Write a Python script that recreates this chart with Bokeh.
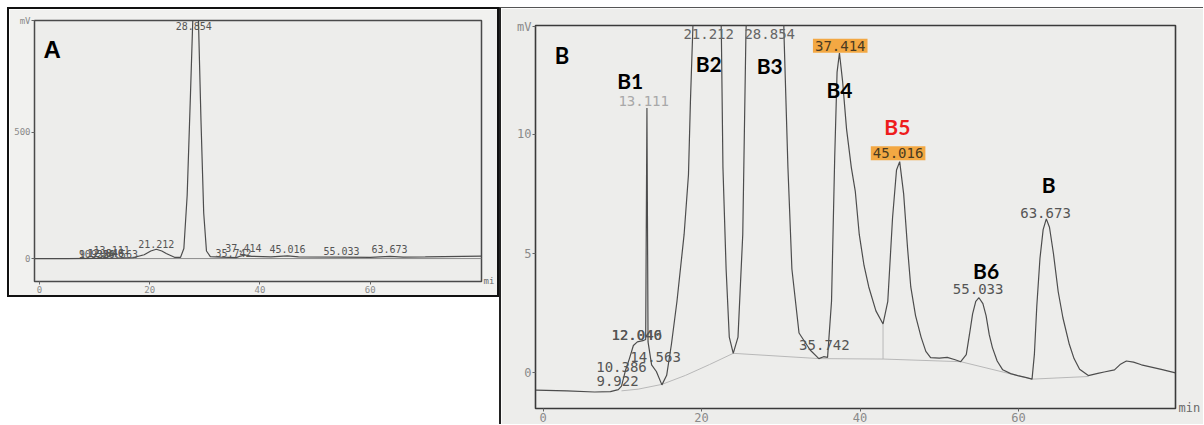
from bokeh.plotting import figure
from bokeh.models import Range1d, Label, FixedTicker, Spacer, LinearAxis
from bokeh.layouts import row, column
from bokeh.embed import file_html
from bokeh.resources import INLINE

# ---------------- Panel A data (min, mV) ----------------
time_a = [-0.9, 5.0, 10.0, 14.0, 17.0, 19.0, 20.2, 21.2, 22.2, 23.0, 24.5, 25.6,
          26.2, 26.8, 27.4, 27.9, 28.3, 28.8, 29.3, 29.8, 30.3, 31.0, 33.0, 35.7,
          36.5, 37.4, 38.5, 42.0, 45.0, 47.0, 55.0, 60.0, 63.6, 66.0, 70.0, 80.2]
signal_a = [0, 0, 1, 2, 4, 15, 30, 37, 30, 20, 5, 5,
            40, 250, 650, 1000, 1150, 980, 550, 180, 30, 8, 6, 4,
            10, 14, 9, 7, 11, 7, 6, 5, 9, 6, 7, 10]
base_a_time = [-0.9, 80.2]
base_a_signal = [0, 0]

labels_a = ["9.922", "10.386", "12.040", "12.046", "13.111", "14.563", "21.212",
            "28.854", "35.742", "37.414", "45.016", "55.033", "63.673"]
label_a_x = [9.9, 10.4, 12.0, 12.05, 13.1, 14.6, 21.2, 28.0, 35.2, 37.0, 45.0, 54.8, 63.5]
label_a_y = [20, 20, 22, 22, 33, 20, 57, 921, 22, 40, 37, 31, 37]

# ---------------- Panel B data (min, mV) ----------------
time_b = [-0.9, 3.0, 6.5, 8.5, 9.5, 9.9, 10.4, 10.9, 11.4, 11.9, 12.6, 12.95,
          13.11, 13.25, 13.7, 14.3, 15.0, 15.6, 16.2, 16.9, 17.8, 18.35, 18.6, 18.9,
          19.4, 20.2, 20.9, 21.6, 22.2, 22.5, 22.7, 23.1, 23.5, 24.0, 24.6, 25.2, 25.6,
          26.3, 27.2, 28.3, 29.3, 30.0,
          30.4, 30.9, 31.4, 32.3, 33.7, 34.8, 35.4, 35.9, 36.4, 36.8, 37.1, 37.4, 37.8,
          38.3, 38.9, 39.4, 39.9, 40.5, 41.1, 42.0, 42.9,
          43.5, 44.1, 44.6, 45.0, 45.5, 46.0, 46.4, 47.0, 47.7, 48.3, 48.9, 50.0, 51.0,
          52.0, 52.7, 53.4, 53.8, 54.2, 54.6, 55.0, 55.5, 55.9, 56.3, 56.7, 57.3, 58.0,
          59.0, 59.9, 61.0, 61.7,
          62.0, 62.3, 62.7, 63.1, 63.5, 63.9, 64.4, 65.0, 65.6, 66.4, 67.0, 67.7, 68.8,
          70.0, 70.8, 72.1, 72.8, 73.6, 74.5, 75.5, 78.0, 79.8]
signal_b = [-0.72, -0.75, -0.8, -0.78, -0.7, -0.55, 0.1, 0.6, 1.15, 1.3, 1.35, 1.4,
            11.1, 1.3, 0.34, 0.06, -0.5, -0.1, 1.2, 3.0, 5.8, 8.3, 11.4, 14.4,
            20, 27, 30, 27, 19, 14.2, 8.6, 4.35, 1.5, 0.82, 1.5, 5.8, 14.2,
            22, 33, 38, 33, 22,
            14.2, 8.6, 4.35, 1.67, 0.96, 0.6, 0.68, 0.65, 3.0, 9.0, 12.6, 13.4, 12.2,
            10.2, 8.6, 7.6, 5.8, 4.5, 3.6, 2.6, 2.05,
            3.0, 6.5, 8.5, 8.85, 7.5, 5.2, 3.6, 2.4, 1.5, 0.9, 0.64, 0.62, 0.65,
            0.55, 0.47, 0.77, 1.6, 2.47, 3.0, 3.15, 2.9, 2.4, 1.6, 1.06, 0.5, 0.13,
            -0.03, -0.11, -0.2, -0.26,
            0.8, 2.8, 4.8, 6.0, 6.45, 6.1, 5.0, 3.4, 2.3, 1.2, 0.6, 0.15, -0.11,
            -0.02, 0.04, 0.13, 0.35, 0.5, 0.45, 0.34, 0.15, 0.0]
base_b_time = [9.9, 12.0, 15.0, 18.0, 21.0, 24.0, 34.8, 43.0, 52.7, 61.7, 68.8]
base_b_signal = [-0.75, -0.68, -0.48, -0.1, 0.35, 0.82, 0.6, 0.58, 0.47, -0.26, -0.15]
drop_b_time = [42.9, 42.9]
drop_b_signal = [2.05, 0.58]

labels_b = ["9.922", "10.386", "12.040", "12.046", "13.111", "14.563", "21.212",
            "28.854", "35.742", "37.414", "45.016", "55.033", "63.673"]
label_b_x = [9.4, 9.9, 11.8, 11.85, 12.7, 14.2, 20.9, 28.6, 35.5, 37.5, 44.8, 54.9, 63.4]
label_b_y = [-0.35, 0.25, 1.6, 1.6, 11.4, 0.68, 14.2, 14.2, 1.17, 13.7, 9.2, 3.5, 6.7]
label_b_color = ["#555555", "#555555", "#555555", "#555555", "#a8a8a8", "#555555", "#666666",
                 "#666666", "#555555", "#4a3a20", "#4a3a20", "#555555", "#555555"]
label_b_highlight = [False, False, False, False, False, False, False,
                     False, False, True, True, False, False]

peak_names = ["B1", "B2", "B3", "B4", "B5", "B6", "B"]
peak_name_x = [11.0, 20.9, 28.6, 37.4, 44.7, 55.9, 63.8]
peak_name_y = [12.26, 12.97, 12.87, 11.86, 10.3, 4.28, 7.9]
peak_name_color = ["black", "black", "black", "black", "#ee1c1c", "black", "black"]

# tick positions and the unit texts shown at the axis ends
xticks = [0, 20, 40, 60]
yticks_a = [0, 500]
yticks_b = [0, 5, 10]
unit_y_a, unit_x_a = 940, -89
unit_y_b, unit_x_b = 14.5, -1.47

PAPER = "#ededeb"
TRACE = "#4d4d4d"
MONO = "DejaVu Sans Mono"


def style_axes(p, yticks, ytop, fsize):
    p.xgrid.visible = False
    p.ygrid.visible = False
    for ax in (p.xaxis[0], p.yaxis[0]):
        ax.axis_line_color = None
        ax.major_tick_line_color = "#666666"
        ax.minor_tick_line_color = None
        ax.major_tick_in = 0
        ax.major_tick_out = 3
        ax.major_label_standoff = 1
        ax.major_label_text_font = MONO
        ax.major_label_text_font_size = fsize
        ax.major_label_text_color = "#8a8a8a"
    p.xaxis[0].ticker = FixedTicker(ticks=xticks)
    p.yaxis[0].ticker = FixedTicker(ticks=yticks + [ytop])
    p.yaxis[0].major_label_overrides = {ytop: "mV"}


def unit_axis(tick, text, fsize, standoff):
    ax = LinearAxis(ticker=FixedTicker(ticks=[tick]), major_label_overrides={tick: text})
    ax.axis_line_color = None
    ax.major_tick_line_color = None
    ax.minor_tick_line_color = None
    ax.major_tick_in = 0
    ax.major_tick_out = 0
    ax.major_label_standoff = standoff
    ax.major_label_text_font = MONO
    ax.major_label_text_font_size = fsize
    ax.major_label_text_color = "#6a6a6a"
    return ax


# ---------------- Panel A ----------------
pa = figure(width=488, height=286, x_range=Range1d(-0.9, 80.2), y_range=Range1d(-90.6, 941),
            output_backend="svg", toolbar_location=None,
            min_border_left=25, min_border_right=13, min_border_top=11, min_border_bottom=13)
pa.background_fill_color = PAPER
pa.border_fill_color = "#f1f1ef"
pa.outline_line_color = "#4a4a4a"
pa.outline_line_width = 1.5
style_axes(pa, yticks_a, unit_y_a, "9px")
pa.add_layout(unit_axis(unit_x_a, "mi", "9px", 2), "right")

pa.line(base_a_time, base_a_signal, line_color="#8c8c8c", line_width=1)
pa.line(time_a, signal_a, line_color=TRACE, line_width=1.2)
for t, lx, ly in zip(labels_a, label_a_x, label_a_y):
    pa.add_layout(Label(x=lx, y=ly, text=t, text_font=MONO, text_font_size="10px",
                        text_color="#555555", text_align="center", text_baseline="middle"))
pa.add_layout(Label(x=2.3, y=827, text="A", text_font="Liberation Sans", text_font_style="bold",
                    text_font_size="24px", text_color="black", text_align="center",
                    text_baseline="middle"))

# ---------------- Panel B ----------------
pb = figure(width=702, height=416, x_range=Range1d(-0.95, 79.8), y_range=Range1d(-1.49, 14.55),
            output_backend="svg", toolbar_location=None,
            min_border_left=34, min_border_right=26, min_border_top=17, min_border_bottom=14)
pb.background_fill_color = PAPER
pb.border_fill_color = PAPER
pb.outline_line_color = "#3a3a3a"
pb.outline_line_width = 1.6
style_axes(pb, yticks_b, unit_y_b, "12px")
pb.add_layout(unit_axis(unit_x_b, "min", "12px", 3), "right")

pb.line(base_b_time, base_b_signal, line_color="#b8b8b8", line_width=1)
pb.line(drop_b_time, drop_b_signal, line_color="#b8b8b8", line_width=1)
pb.line(time_b, signal_b, line_color=TRACE, line_width=1.2)

for t, lx, ly, c, hl in zip(labels_b, label_b_x, label_b_y, label_b_color, label_b_highlight):
    kw = {}
    if hl:
        kw = dict(background_fill_color="#f3a43a", background_fill_alpha=0.95,
                  padding=2)
    pb.add_layout(Label(x=lx, y=ly, text=t, text_font=MONO, text_font_size="14px",
                        text_color=c, text_align="center", text_baseline="middle", **kw))

for t, lx, ly, c in zip(peak_names, peak_name_x, peak_name_y, peak_name_color):
    pb.add_layout(Label(x=lx, y=ly, text=t, text_font="Lato", text_font_style="bold",
                        text_font_size="21px", text_color=c, text_align="center",
                        text_baseline="middle"))
pb.add_layout(Label(x=2.4, y=13.3, text="B", text_font="Lato", text_font_style="bold",
                    text_font_size="22px", text_color="black", text_align="center",
                    text_baseline="middle"))

box_a = column(pa, styles={"border": "2px solid #111111"})
box_b = column(pb, styles={"border-left": "2px solid #222222", "border-top": "1px solid #555555"})
layout = column(Spacer(height=7), row(Spacer(width=7), box_a, box_b))
open("out.html", "w").write(file_html(layout, INLINE))
